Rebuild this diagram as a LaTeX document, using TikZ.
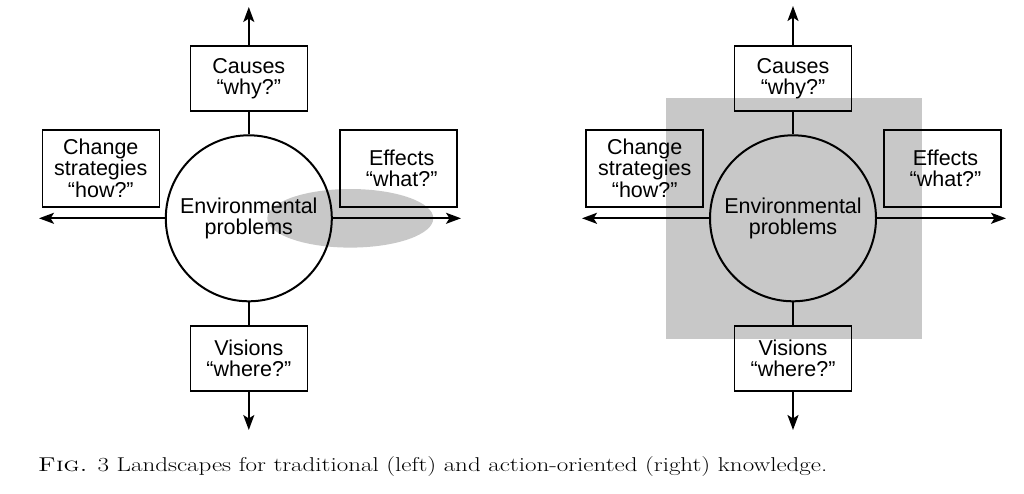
\documentclass[tikz,border=0pt]{standalone}
\usepackage{fontspec}
\newfontfamily\helv{Liberation Sans}
\usetikzlibrary{arrows.meta}
\definecolor{greyfill}{RGB}{200,200,200}
\tikzset{
  lbl/.style={font={\helv\fontsize{21.5}{21.5}\selectfont}, align=center},
  box/.style={lbl, draw, line width=1.6pt, minimum width=117pt, minimum height=65pt, inner sep=0pt},
  sidebox/.style={box, minimum height=77pt},
  circ/.style={lbl, draw, circle, line width=2pt, minimum size=166pt, inner sep=0pt},
  arr/.style={line width=2pt, -{Stealth[length=15pt,width=11pt,inset=3.5pt]}},
  conn/.style={line width=2pt},
}
\begin{document}
\begin{tikzpicture}[x=1pt,y=-1pt]
\useasboundingbox (0,0) rectangle (1024,493);
% ---------- left diagram ----------
\fill[greyfill] (350.3,218.3) ellipse [x radius=83, y radius=29.3];
\node[circ] (envL) at (248.8,218.3) {Environmental\\problems};
\node[box] (causesL) at (248.8,78.5) {Causes\\“why?”};
\node[sidebox] (changeL) at (100.8,168.3) {Change\\strategies\\“how?”};
\node[sidebox] (effectsL) at (398.7,168.3) {\hspace*{6pt}Effects\\\hspace*{6pt}“what?”};
\node[box] (visionsL) at (248.8,358.5) {Visions\\“where?”};
\coordinate (upL) at (248.8,7);
\coordinate (downL) at (248.8,430);
\coordinate (leftL) at (39,218.3);
\coordinate (rightL) at (461,218.3);
\draw[arr] (causesL.north) -- (upL);
\draw[conn] (causesL.south) -- (envL.north);
\draw[conn] (envL.south) -- (visionsL.north);
\draw[arr] (visionsL.south) -- (downL);
\draw[arr] (envL.west) -- (leftL);
\draw[arr] (envL.east) -- (rightL);
% ---------- right diagram ----------
\fill[greyfill] (665.7,97.7) rectangle (922.3,339.3);
\node[circ] (envR) at (793,218.3) {Environmental\\problems};
\node[box] (causesR) at (793,78.5) {Causes\\“why?”};
\node[sidebox] (changeR) at (644.7,168.3) {Change\\strategies\\“how?”};
\node[sidebox] (effectsR) at (942.5,168.3) {\hspace*{6pt}Effects\\\hspace*{6pt}“what?”};
\node[box] (visionsR) at (793,358.5) {Visions\\“where?”};
\coordinate (upR) at (793,6);
\coordinate (downR) at (793,430);
\coordinate (leftR) at (582,218.3);
\coordinate (rightR) at (1006,218.3);
\draw[arr] (causesR.north) -- (upR);
\draw[conn] (causesR.south) -- (envR.north);
\draw[conn] (envR.south) -- (visionsR.north);
\draw[arr] (visionsR.south) -- (downR);
\draw[arr] (envR.west) -- (leftR);
\draw[arr] (envR.east) -- (rightR);
% ---------- caption ----------
\node[anchor=base west, inner sep=0pt, font=\fontsize{20}{22}\selectfont] (caption) at (38,471)
  {\scalebox{1.25}[1]{\textsc{Fig.} 3 Landscapes for traditional (left) and action-oriented (right) knowledge.}};
\end{tikzpicture}
\end{document}
